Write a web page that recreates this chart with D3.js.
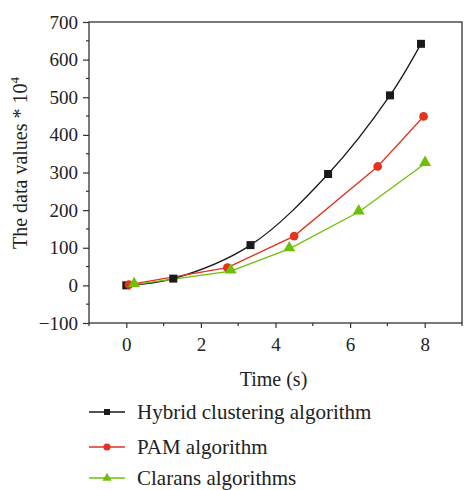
<!DOCTYPE html>
<html><head><meta charset="utf-8">
<script src="https://cdn.jsdelivr.net/npm/d3@7"></script>
<style>body{margin:0;background:#fff}svg{display:block}text{font-family:"Liberation Serif","DejaVu Serif",serif;fill:#222}</style>
</head><body><svg id="c" width="464" height="490"></svg>
<script>
const hybridX = [0.0, 1.26, 3.33, 5.41, 7.07, 7.90];
const hybridY = [0, 18, 107, 296, 505, 642];
const pamX = [0.07, 2.71, 4.50, 6.74, 7.97];
const pamY = [2, 47, 131, 316, 449];
const claransX = [0.21, 2.80, 4.37, 6.23, 8.01];
const claransY = [2, 38, 97, 195, 324];
const xTicks = [0, 2, 4, 6, 8];
const yTicks = [-100, 0, 100, 200, 300, 400, 500, 600, 700];
const seriesNames = ["Hybrid clustering algorithm", "PAM algorithm", "Clarans algorithms"];

const svg = d3.select("#c");
const L = 89, R = 462, T = 22, B = 323;
const x = d3.scaleLinear().domain([-1, 9]).range([L, R]);
const y = d3.scaleLinear().domain([-100, 700]).range([B, T]);

const colors = ["#1a1a1a", "#e5321f", "#6fbf0a"];

// frame
svg.append("rect").attr("x", L).attr("y", T).attr("width", R - L).attr("height", B - T)
  .attr("fill", "none").attr("stroke", "#333").attr("stroke-width", 1.3);

// y axis
const ya = svg.append("g").attr("transform", `translate(${L},0)`)
  .call(d3.axisLeft(y).tickValues(yTicks).tickSize(6).tickPadding(5).tickFormat(d => d < 0 ? "\u2212" + Math.abs(d) : d));
ya.select(".domain").remove();
ya.selectAll("line").attr("stroke", "#333").attr("stroke-width", 1.2);
ya.selectAll("text").attr("font-size", 19).attr("font-family", '"Liberation Serif",serif').attr("fill", "#222");
const yMinor = d3.range(-50, 700, 100);
svg.append("g").selectAll("line").data(yMinor).join("line")
  .attr("x1", L - 3).attr("x2", L).attr("y1", d => y(d)).attr("y2", d => y(d))
  .attr("stroke", "#333").attr("stroke-width", 1.2);

// x axis
const xa = svg.append("g").attr("transform", `translate(0,${B})`)
  .call(d3.axisBottom(x).tickValues(xTicks).tickSize(5).tickPadding(10));
xa.select(".domain").remove();
xa.selectAll("line").attr("stroke", "#333").attr("stroke-width", 1.2);
xa.selectAll("text").attr("font-size", 19).attr("font-family", '"Liberation Serif",serif').attr("fill", "#222");
const xMinor = [-1, 1, 3, 5, 7, 9];
svg.append("g").selectAll("line").data(xMinor).join("line")
  .attr("x1", d => x(d)).attr("x2", d => x(d)).attr("y1", B).attr("y2", B + 3)
  .attr("stroke", "#333").attr("stroke-width", 1.2);

// axis titles
svg.append("text").attr("x", x(4) - 2).attr("y", 386).attr("text-anchor", "middle")
  .attr("font-size", 20).text("Time (s)");
const yl = svg.append("text").attr("transform", `translate(27,${163}) rotate(-90)`)
  .attr("text-anchor", "middle").attr("font-size", 20);
yl.append("tspan").text("The data values * 10");
yl.append("tspan").attr("font-size", 13).attr("dy", -8).text("4");

// series
const series = [
  {xs: hybridX, ys: hybridY, curve: d3.curveCatmullRom.alpha(0.5), sym: d3.symbolSquare, size: 64},
  {xs: pamX, ys: pamY, curve: d3.curveLinear, sym: d3.symbolCircle, size: 60},
  {xs: claransX, ys: claransY, curve: d3.curveLinear, sym: d3.symbolTriangle, size: 62}
];
series.forEach((s, i) => {
  const pts = s.xs.map((v, j) => [v, s.ys[j]]);
  svg.append("path").datum(pts)
    .attr("d", d3.line().x(d => x(d[0])).y(d => y(d[1])).curve(s.curve))
    .attr("fill", "none").attr("stroke", colors[i]).attr("stroke-width", 1.3);
});
series.forEach((s, i) => {
  const pts = s.xs.map((v, j) => [v, s.ys[j]]);
  svg.append("g").selectAll("path").data(pts).join("path")
    .attr("transform", d => `translate(${x(d[0])},${y(d[1]) + (i === 2 ? -1 : 0)})`)
    .attr("d", d3.symbol().type(s.sym).size(s.size))
    .attr("fill", colors[i]);
});

// legend
const ly = [412, 447, 478];
seriesNames.forEach((n, i) => {
  const g = svg.append("g").attr("transform", `translate(0,${ly[i]})`);
  g.append("line").attr("x1", 89).attr("x2", 125).attr("y1", 0).attr("y2", 0)
    .attr("stroke", colors[i]).attr("stroke-width", 1.3);
  g.append("path").attr("transform", "translate(107,0)")
    .attr("d", d3.symbol().type(series[i].sym).size(i === 1 ? 40 : 36)).attr("fill", colors[i]);
  g.append("text").attr("x", 137).attr("y", 7).attr("font-size", 21).text(n);
});
</script></body></html>
